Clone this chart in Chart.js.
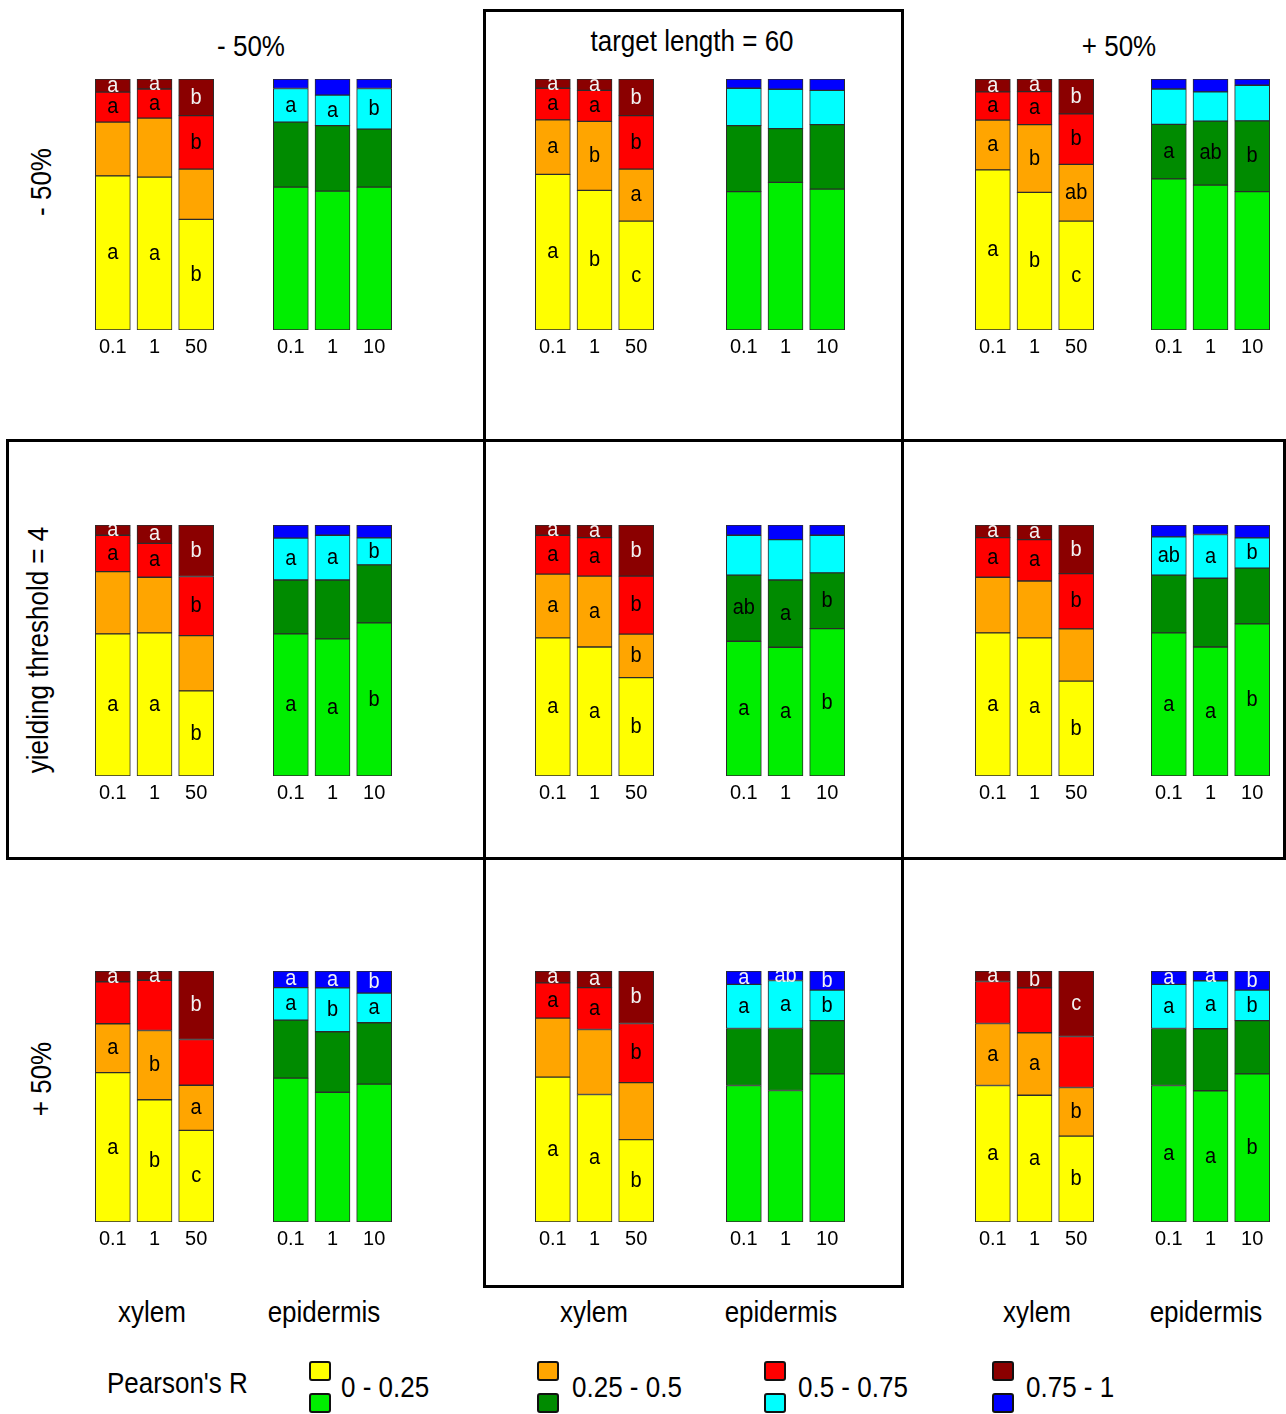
<!DOCTYPE html>
<html>
<head>
<meta charset="utf-8">
<script src="https://cdn.jsdelivr.net/npm/chart.js@4.4.1/dist/chart.umd.min.js"></script>
<style>
  html, body { margin: 0; padding: 0; background: #fff; }
  #page { position: relative; width: 1286px; height: 1414px; overflow: hidden;
          font-family: Arial, "Liberation Sans", Helvetica, sans-serif; color: #000; }
  .grp { position: absolute; }
  .lbl { position: absolute; white-space: nowrap; font-size: 26px; line-height: 1;
         transform: translate(-50%, -50%) scaleY(1.12); }
  .lbl.left { transform: translate(0, -50%) scaleY(1.12); }
  .rot { position: absolute; white-space: nowrap; font-size: 26px; line-height: 1;
         transform: translate(-50%, -50%) rotate(-90deg) scaleY(1.12); }
  .frame { position: absolute; border: 3px solid #000; box-sizing: border-box; pointer-events: none; }
  .key { position: absolute; width: 22px; height: 20px; border: 2px solid #111;
         box-sizing: border-box; border-radius: 3px; }
</style>
</head>
<body>
<div id="page"></div>
<script>
// Tick labels for the two tissue groups
const xylemTicks = ['0.1', '1', '50'];
const epidermisTicks = ['0.1', '1', '10'];

// Class labels of Pearson's R (bottom to top of each bar)
const classLabels = ['0 - 0.25', '0.25 - 0.5', '0.5 - 0.75', '0.75 - 1'];
const xylemColors = ['#FFFF00', '#FFA500', '#FF0000', '#8B0000'];
const epidermisColors = ['#00EE00', '#008B00', '#00FFFF', '#0000FF'];

// Row / column headings
const colTitles = ['- 50%', 'target length = 60', '+ 50%'];
const rowTitles = ['- 50%', 'yielding threshold = 4', '+ 50%'];

// Share of each class per bar: [0-0.25, 0.25-0.5, 0.5-0.75, 0.75-1]
const xylem_r1c1 = [[0.614, 0.214, 0.120, 0.052], [0.609, 0.235, 0.116, 0.040], [0.441, 0.200, 0.213, 0.146]];
const epidermis_r1c1 = [[0.569, 0.259, 0.134, 0.038], [0.553, 0.261, 0.122, 0.064], [0.569, 0.231, 0.162, 0.038]];
const xylem_r1c2 = [[0.620, 0.217, 0.126, 0.037], [0.556, 0.275, 0.124, 0.045], [0.434, 0.207, 0.213, 0.146]];
const epidermis_r1c2 = [[0.551, 0.263, 0.149, 0.037], [0.588, 0.214, 0.157, 0.041], [0.561, 0.257, 0.137, 0.045]];
const xylem_r1c3 = [[0.638, 0.198, 0.113, 0.051], [0.548, 0.270, 0.132, 0.050], [0.434, 0.226, 0.201, 0.139]];
const epidermis_r1c3 = [[0.602, 0.217, 0.141, 0.040], [0.577, 0.255, 0.117, 0.051], [0.551, 0.282, 0.142, 0.025]];

const xylem_r2c1 = [[0.566, 0.248, 0.145, 0.041], [0.570, 0.222, 0.135, 0.073], [0.339, 0.220, 0.236, 0.205]];
const epidermis_r2c1 = [[0.566, 0.215, 0.167, 0.052], [0.546, 0.235, 0.178, 0.041], [0.610, 0.231, 0.108, 0.051]];
const xylem_r2c2 = [[0.550, 0.254, 0.155, 0.041], [0.514, 0.282, 0.154, 0.050], [0.392, 0.173, 0.231, 0.204]];
const epidermis_r2c2 = [[0.537, 0.263, 0.159, 0.041], [0.513, 0.268, 0.161, 0.058], [0.587, 0.222, 0.150, 0.041]];
const xylem_r2c3 = [[0.570, 0.222, 0.158, 0.050], [0.550, 0.227, 0.165, 0.058], [0.378, 0.208, 0.220, 0.194]];
const epidermis_r2c3 = [[0.570, 0.230, 0.153, 0.047], [0.514, 0.274, 0.174, 0.038], [0.606, 0.222, 0.121, 0.051]];

const xylem_r3c1 = [[0.595, 0.195, 0.167, 0.043], [0.487, 0.276, 0.200, 0.037], [0.365, 0.180, 0.182, 0.273]];
const epidermis_r3c1 = [[0.573, 0.231, 0.130, 0.066], [0.517, 0.241, 0.175, 0.067], [0.549, 0.245, 0.118, 0.088]];
const xylem_r3c2 = [[0.577, 0.235, 0.141, 0.047], [0.508, 0.259, 0.167, 0.066], [0.328, 0.227, 0.236, 0.209]];
const epidermis_r3c2 = [[0.544, 0.227, 0.176, 0.053], [0.524, 0.247, 0.191, 0.038], [0.590, 0.212, 0.122, 0.076]];
const xylem_r3c3 = [[0.544, 0.247, 0.167, 0.042], [0.505, 0.249, 0.179, 0.067], [0.342, 0.194, 0.203, 0.261]];
const epidermis_r3c3 = [[0.544, 0.227, 0.176, 0.053], [0.523, 0.247, 0.191, 0.039], [0.590, 0.212, 0.122, 0.076]];

// Significance letters per bar and class ('' = none)
const xylemLetters_r1c1 = [['a', '', 'a', 'a'], ['a', '', 'a', 'a'], ['b', '', 'b', 'b']];
const epidermisLetters_r1c1 = [['', '', 'a', ''], ['', '', 'a', ''], ['', '', 'b', '']];
const xylemLetters_r1c2 = [['a', 'a', 'a', 'a'], ['b', 'b', 'a', 'a'], ['c', 'a', 'b', 'b']];
const epidermisLetters_r1c2 = [['', '', '', ''], ['', '', '', ''], ['', '', '', '']];
const xylemLetters_r1c3 = [['a', 'a', 'a', 'a'], ['b', 'b', 'a', 'a'], ['c', 'ab', 'b', 'b']];
const epidermisLetters_r1c3 = [['', 'a', '', ''], ['', 'ab', '', ''], ['', 'b', '', '']];

const xylemLetters_r2c1 = [['a', '', 'a', 'a'], ['a', '', 'a', 'a'], ['b', '', 'b', 'b']];
const epidermisLetters_r2c1 = [['a', '', 'a', ''], ['a', '', 'a', ''], ['b', '', 'b', '']];
const xylemLetters_r2c2 = [['a', 'a', 'a', 'a'], ['a', 'a', 'a', 'a'], ['b', 'b', 'b', 'b']];
const epidermisLetters_r2c2 = [['a', 'ab', '', ''], ['a', 'a', '', ''], ['b', 'b', '', '']];
const xylemLetters_r2c3 = [['a', '', 'a', 'a'], ['a', '', 'a', 'a'], ['b', '', 'b', 'b']];
const epidermisLetters_r2c3 = [['a', '', 'ab', ''], ['a', '', 'a', ''], ['b', '', 'b', '']];

const xylemLetters_r3c1 = [['a', 'a', '', 'a'], ['b', 'b', '', 'a'], ['c', 'a', '', 'b']];
const epidermisLetters_r3c1 = [['', '', 'a', 'a'], ['', '', 'b', 'a'], ['', '', 'a', 'b']];
const xylemLetters_r3c2 = [['a', '', 'a', 'a'], ['a', '', 'a', 'a'], ['b', '', 'b', 'b']];
const epidermisLetters_r3c2 = [['', '', 'a', 'a'], ['', '', 'a', 'ab'], ['', '', 'b', 'b']];
const xylemLetters_r3c3 = [['a', 'a', '', 'a'], ['a', 'a', '', 'b'], ['b', 'b', '', 'c']];
const epidermisLetters_r3c3 = [['a', '', 'a', 'a'], ['a', '', 'a', 'a'], ['b', '', 'b', 'b']];

const panels = [
  [[xylem_r1c1, epidermis_r1c1, xylemLetters_r1c1, epidermisLetters_r1c1],
   [xylem_r1c2, epidermis_r1c2, xylemLetters_r1c2, epidermisLetters_r1c2],
   [xylem_r1c3, epidermis_r1c3, xylemLetters_r1c3, epidermisLetters_r1c3]],
  [[xylem_r2c1, epidermis_r2c1, xylemLetters_r2c1, epidermisLetters_r2c1],
   [xylem_r2c2, epidermis_r2c2, xylemLetters_r2c2, epidermisLetters_r2c2],
   [xylem_r2c3, epidermis_r2c3, xylemLetters_r2c3, epidermisLetters_r2c3]],
  [[xylem_r3c1, epidermis_r3c1, xylemLetters_r3c1, epidermisLetters_r3c1],
   [xylem_r3c2, epidermis_r3c2, xylemLetters_r3c2, epidermisLetters_r3c2],
   [xylem_r3c3, epidermis_r3c3, xylemLetters_r3c3, epidermisLetters_r3c3]]
];

// ---- layout ----
const FONT = 'Arial, "Liberation Sans", Helvetica, sans-serif';
const barTop = [79, 525, 971];
const plotH = 251;
const axisH = 30;
const padTop = 2;
const groupW = 125;
// centre of the first bar of each group
const xylemFirst = [112.5, 552.5, 992.5];
const epidermisFirst = [290.5, 743.5, 1168.5];

const page = document.getElementById('page');

// Writes the significance letter in the middle of each stacked segment
const letterPlugin = {
  id: 'segmentLetters',
  afterDatasetsDraw(chart, args, opts) {
    const letters = opts.letters;
    if (!letters) return;
    const ctx = chart.ctx;
    const area = chart.chartArea;
    ctx.save();
    ctx.beginPath();
    ctx.rect(area.left, area.top, area.right - area.left, area.bottom - area.top);
    ctx.clip();
    ctx.font = '20px ' + FONT;
    ctx.textAlign = 'center';
    ctx.textBaseline = 'middle';
    chart.data.datasets.forEach((ds, i) => {
      const meta = chart.getDatasetMeta(i);
      meta.data.forEach((el, j) => {
        const txt = letters[j][i];
        if (!txt) return;
        const p = el.getProps(['x', 'y', 'base'], true);
        ctx.fillStyle = i === 3 ? '#F2F2F2' : '#000';
        ctx.save();
        ctx.translate(p.x, (p.y + p.base) / 2);
        ctx.scale(1, 1.12);
        ctx.fillText(txt, 0, 0);
        ctx.restore();
      });
    });
    ctx.restore();
  }
};

function makeGroup(left, top, bars, letters, colors, ticks) {
  const box = document.createElement('div');
  box.className = 'grp';
  box.style.left = left + 'px';
  box.style.top = top + 'px';
  box.style.width = groupW + 'px';
  box.style.height = (padTop + plotH + axisH) + 'px';
  const cv = document.createElement('canvas');
  cv.width = groupW;
  cv.height = padTop + plotH + axisH;
  box.appendChild(cv);
  page.appendChild(box);

  const datasets = classLabels.map((name, k) => ({
    label: name,
    data: bars.map(b => b[k]),
    backgroundColor: colors[k],
    borderColor: '#2b2b2b',
    borderWidth: 1,
    borderSkipped: false,
    barThickness: 35
  }));

  new Chart(cv, {
    type: 'bar',
    data: { labels: ticks, datasets },
    options: {
      responsive: false,
      animation: false,
      devicePixelRatio: 1,
      layout: { padding: { top: padTop, left: 0, right: 0, bottom: 0 } },
      plugins: {
        legend: { display: false },
        tooltip: { enabled: false },
        segmentLetters: { letters }
      },
      scales: {
        x: {
          stacked: true,
          grid: { display: false, drawTicks: false },
          border: { display: false },
          ticks: { color: '#000', padding: 5, font: { size: 20, family: FONT }, maxRotation: 0 },
          afterFit(scale) { scale.height = axisH; }
        },
        y: {
          stacked: true,
          display: false,
          min: 0,
          max: 1
        }
      }
    },
    plugins: [letterPlugin]
  });
}

const pitch = groupW / 3;
for (let r = 0; r < 3; r++) {
  for (let c = 0; c < 3; c++) {
    const [xb, eb, xl, el] = panels[r][c];
    const top = barTop[r] - padTop;
    makeGroup(xylemFirst[c] - pitch / 2, top, xb, xl, xylemColors, xylemTicks);
    makeGroup(epidermisFirst[c] - pitch / 2, top, eb, el, epidermisColors, epidermisTicks);
  }
}

// ---- text and frames ----
function addLabel(text, x, y, cls) {
  const d = document.createElement('div');
  d.className = cls || 'lbl';
  d.textContent = text;
  d.style.left = x + 'px';
  d.style.top = y + 'px';
  page.appendChild(d);
  return d;
}

addLabel(colTitles[0], 251, 46);
addLabel(colTitles[1], 692, 41);
addLabel(colTitles[2], 1119, 46);

addLabel(rowTitles[0], 41, 182, 'rot');
addLabel(rowTitles[1], 38, 650, 'rot');
addLabel(rowTitles[2], 41, 1079, 'rot');

const tissueX = [[152, 324], [594, 781], [1037, 1206]];
tissueX.forEach(([xa, xb]) => {
  addLabel('xylem', xa, 1312);
  addLabel('epidermis', xb, 1312);
});

function addFrame(l, t, w, h) {
  const f = document.createElement('div');
  f.className = 'frame';
  f.style.left = l + 'px';
  f.style.top = t + 'px';
  f.style.width = w + 'px';
  f.style.height = h + 'px';
  page.appendChild(f);
}
addFrame(483, 9, 421, 1279);
addFrame(6, 439, 1280, 421);

// legend
addLabel("Pearson's R", 107, 1383, 'lbl left');
const keyX = [309, 537, 764, 992];
const textX = [341, 572, 798, 1026];
classLabels.forEach((name, k) => {
  const a = document.createElement('div');
  a.className = 'key';
  a.style.left = keyX[k] + 'px';
  a.style.top = '1361px';
  a.style.background = xylemColors[k];
  page.appendChild(a);
  const b = document.createElement('div');
  b.className = 'key';
  b.style.left = keyX[k] + 'px';
  b.style.top = '1393px';
  b.style.background = epidermisColors[k];
  page.appendChild(b);
  addLabel(name, textX[k], 1387, 'lbl left');
});
</script>
</body>
</html>
